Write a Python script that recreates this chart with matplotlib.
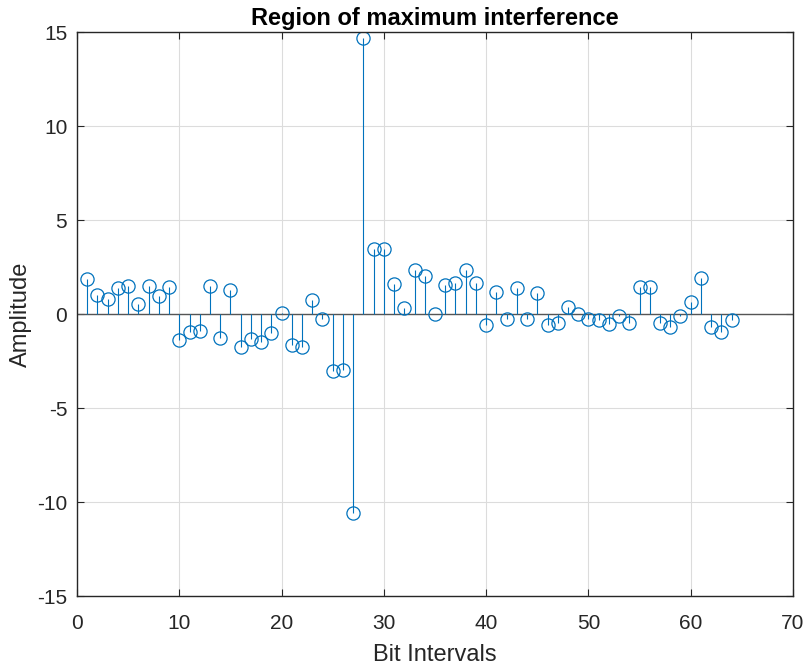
import matplotlib
matplotlib.use("Agg")
import matplotlib.pyplot as plt
import numpy as np

plt.rcParams['font.family'] = ['Liberation Sans', 'DejaVu Sans']
plt.rcParams['axes.unicode_minus'] = False

bits = list(range(1, 65))
amplitude = [1.86, 1.00, 0.80, 1.38, 1.49, 0.55, 1.49, 0.96, 1.44, -1.38,
             -0.96, -0.90, 1.49, -1.28, 1.28, -1.76, -1.33, -1.49, -1.01, 0.05,
             -1.65, -1.76, 0.74, -0.27, -3.03, -2.98, -10.58, 14.68, 3.46, 3.46,
             1.60, 0.32, 2.34, 2.02, 0.00, 1.54, 1.65, 2.34, 1.65, -0.60,
             1.17, -0.27, 1.38, -0.27, 1.12, -0.60, -0.48, 0.35, 0.00, -0.29,
             -0.30, -0.53, -0.10, -0.48, 1.44, 1.44, -0.48, -0.69, -0.10, 0.64,
             1.91, -0.69, -0.96, -0.32]

fig = plt.figure(figsize=(8.06, 6.66), dpi=100)
ax = fig.add_axes([77 / 806, 1 - 596 / 666, 716 / 806, 564 / 666])

color = '#0072BD'
ml, sl, bl = ax.stem(bits, amplitude, basefmt='-')
plt.setp(sl, color=color, linewidth=0.8)
plt.setp(ml, color=color, marker='o', markerfacecolor='none', markersize=9.5, markeredgewidth=0.9)
bl.set_visible(False)
ax.axhline(0, color='#555555', linewidth=1.0, zorder=1)

ax.set_xlim(0, 70)
ax.set_ylim(-15, 15)
ax.set_xticks(np.arange(0, 71, 10))
ax.set_yticks(np.arange(-15, 16, 5))
ax.grid(True, color='#DCDCDC', linewidth=0.8)
ax.set_axisbelow(True)
ax.tick_params(direction='in', length=5, labelsize=15, colors='#262626', top=True, right=True)
ax.tick_params(axis='x', pad=13)
ax.tick_params(axis='y', pad=7)
for s in ax.spines.values():
    s.set_color('#262626')
    s.set_linewidth(1.0)
ax.set_xlabel('Bit Intervals', fontsize=17, color='#262626', labelpad=8)
ax.set_ylabel('Amplitude', fontsize=17, color='#262626', labelpad=4)
ax.set_title('Region of maximum interference', fontsize=17, fontweight='bold', pad=5)

fig.savefig('out.png', dpi=100)
